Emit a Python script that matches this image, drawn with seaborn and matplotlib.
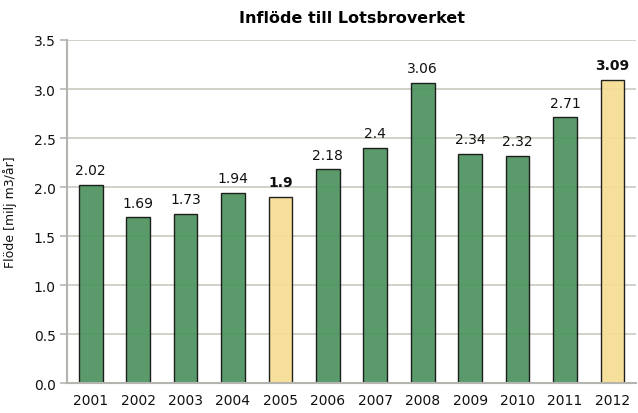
import pandas as pd
import seaborn as sns
from matplotlib import pyplot as plt

sns.set_theme(style="white")
plt.rcParams['font.family'] = ['DejaVu Sans']

years = ['2001', '2002', '2003', '2004', '2005', '2006',
         '2007', '2008', '2009', '2010', '2011', '2012']
flow = [2.02, 1.69, 1.73, 1.94, 1.9, 2.18, 2.4, 3.06, 2.34, 2.32, 2.71, 3.09]
labels = ['2.02', '1.69', '1.73', '1.94', '1.9', '2.18',
          '2.4', '3.06', '2.34', '2.32', '2.71', '3.09']
highlight = ['2005', '2012']

green = '#4e9460'
yellow = '#f6dd94'
palette = [yellow if y in highlight else green for y in years]

df = pd.DataFrame({'year': years, 'flow': flow})

fig, ax = plt.subplots(figsize=(6.38, 4.14), dpi=100)
fig.subplots_adjust(left=0.105, right=0.997, top=0.901, bottom=0.072)

ax.yaxis.grid(True, color='#c9c9c0', linewidth=1.2, zorder=0)
ax.set_axisbelow(True)
sns.barplot(data=df, x='year', y='flow', hue='year', palette=palette,
            legend=False, width=0.5, edgecolor='#111111', linewidth=1,
            alpha=0.93, saturation=1, ax=ax, zorder=2)

for i, (v, t) in enumerate(zip(flow, labels)):
    bold = years[i] in highlight
    ax.text(i, v + 0.08, t, ha='center', va='bottom', fontsize=10,
            fontweight='bold' if bold else 'normal', color='#111111')

ax.set_ylim(0, 3.5)
ax.set_xlim(-0.5, 11.5)
ax.set_yticks([0, 0.5, 1, 1.5, 2, 2.5, 3, 3.5])
ax.set_yticklabels(['0.0', '0.5', '1.0', '1.5', '2.0', '2.5', '3.0', '3.5'])
ax.tick_params(axis='both', labelsize=10, labelcolor='#111111')
ax.tick_params(axis='y', length=5, width=1.2, color='#b5b5b0', pad=3, left=True)
ax.tick_params(axis='x', length=0, pad=7)
ax.set_xlabel('')
ax.set_ylabel('Flöde [milj m3/år]', fontsize=9, color='#111111', labelpad=12)
ax.set_title('Inflöde till Lotsbroverket', fontsize=11.5, fontweight='bold',
             color='black', pad=13)

for s in ['top', 'right']:
    ax.spines[s].set_visible(False)
for s in ['left', 'bottom']:
    ax.spines[s].set_color('#b5b5b0')
    ax.spines[s].set_linewidth(1.5)

plt.savefig('out.png', dpi=100)
plt.close()
